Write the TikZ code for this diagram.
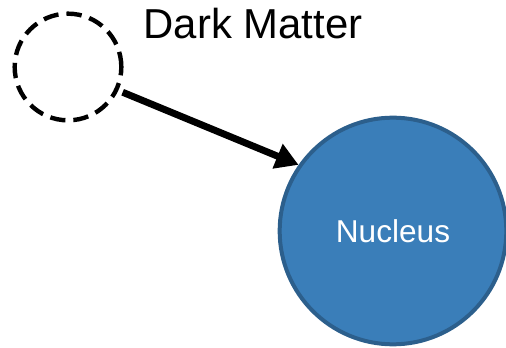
\documentclass[tikz,border=0pt]{standalone}
\usepackage{fontspec}
\setmainfont{Liberation Sans}
\usetikzlibrary{arrows.meta}
\definecolor{nucfill}{HTML}{3A7EB9}
\definecolor{nucedge}{HTML}{2C5F8C}
\begin{document}
\begin{tikzpicture}[x=0.75pt,y=-0.75pt,
  ghost/.style={circle, draw=black, line width=3.3pt,
    dash pattern=on 11.5pt off 6pt, minimum size=80pt, inner sep=0pt},
  nucleus/.style={circle, draw=nucedge, fill=nucfill, line width=3pt,
    minimum size=170pt, inner sep=0pt, text=white,
    font=\fontsize{23.7}{28}\selectfont},
  title/.style={anchor=base west, font=\fontsize{31.4}{36}\selectfont},
  hit/.style={line width=5.2pt, shorten <=3.5pt,
    -{Triangle[length=17pt, width=19pt]}}]
\useasboundingbox (0,0) rectangle (506,348);
% incoming particle and its label
\node[ghost] (dm) at (68,67) {};
\node[title] (dmlabel) at (139,39) {Dark Matter};
% target nucleus
\node[nucleus] (nc) at (393,231) {Nucleus};
% scattering path
\draw[hit] (dm.-25) -- (nc.145);
\end{tikzpicture}
\end{document}
